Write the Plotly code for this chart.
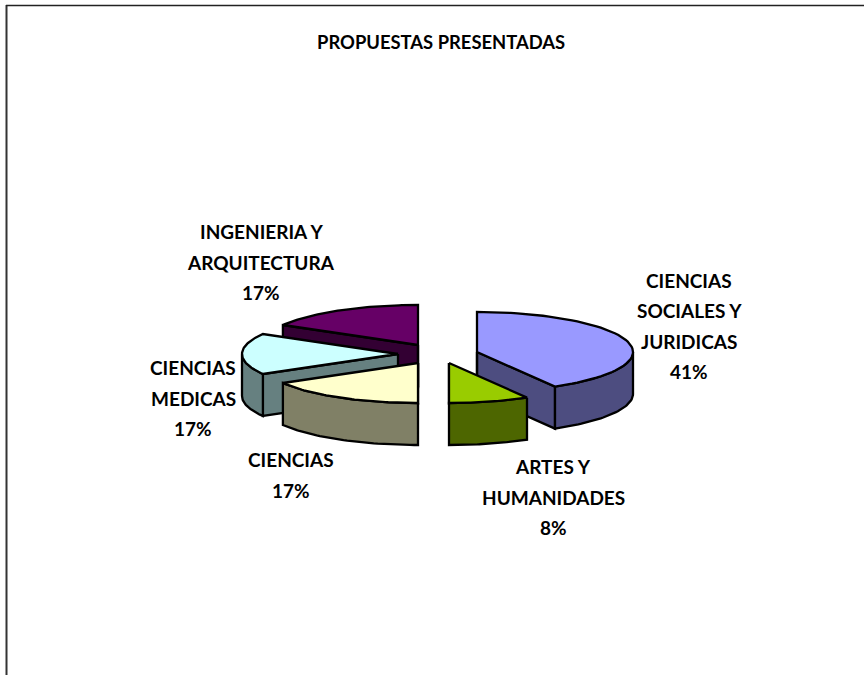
import math
import plotly.graph_objects as go

# Data
categories = ["CIENCIAS SOCIALES Y JURIDICAS", "ARTES Y HUMANIDADES", "CIENCIAS",
              "CIENCIAS MEDICAS", "INGENIERIA Y ARQUITECTURA"]
values = [5, 1, 2, 2, 2]
percent_labels = ["41%", "8%", "17%", "17%", "17%"]
label_lines = [["CIENCIAS", "SOCIALES Y", "JURIDICAS"], ["ARTES Y", "HUMANIDADES"], ["CIENCIAS"],
               ["CIENCIAS", "MEDICAS"], ["INGENIERIA Y", "ARQUITECTURA"]]
top_colors = ["#9999FF", "#99CC00", "#FFFFCC", "#CCFFFF", "#660066"]
side_colors = ["#4D4D80", "#4D6600", "#808066", "#668080", "#330033"]
title = "PROPUESTAS PRESENTADAS"

# Layout of the exploded, tilted pie (pixels of the page)
RX, RY, DEPTH = 156, 40, 42
apexes = [(477, 352), (449, 363), (418, 363), (398, 354), (418, 345)]
label_xy = [(689, 326), (553, 497), (291, 475), (193, 398), (261, 262)]
draw_order = [4, 3, 2, 0, 1]
LINE = 2.3
FONT = "Lato"


def pt(apex, deg, dy=0):
    t = math.radians(deg)
    return apex[0] + RX * math.sin(t), apex[1] - RY * math.cos(t) + dy


def poly(fig, pts, color):
    xs = [p[0] for p in pts] + [pts[0][0]]
    ys = [p[1] for p in pts] + [pts[0][1]]
    fig.add_trace(go.Scatter(x=xs, y=ys, mode="lines", fill="toself", fillcolor=color,
                             line=dict(color="black", width=LINE), hoverinfo="skip",
                             showlegend=False))


fig = go.Figure()
total = sum(values)
starts = []
acc = 0
for v in values:
    starts.append(acc)
    acc += v

for i in draw_order:
    a = 360 * starts[i] / total
    b = 360 * (starts[i] + values[i]) / total
    apex = apexes[i]
    side, top = side_colors[i], top_colors[i]
    low_apex = (apex[0], apex[1] + DEPTH)
    # radial walls, then outer wall, then top face
    for deg, visible in ((a, math.sin(math.radians(a)) < -1e-6), (b, math.sin(math.radians(b)) > 1e-6)):
        if visible:
            poly(fig, [apex, pt(apex, deg), pt(apex, deg, DEPTH), low_apex], side)
    if abs(math.sin(math.radians(a))) < 1e-6 or abs(math.sin(math.radians(b))) < 1e-6:
        fig.add_trace(go.Scatter(x=[apex[0], low_apex[0]], y=[apex[1], low_apex[1]], mode="lines",
                                 line=dict(color="black", width=LINE), hoverinfo="skip", showlegend=False))
    lo, hi = max(a, 90), min(b, 270)
    if hi > lo:
        n = 40
        degs = [lo + (hi - lo) * k / n for k in range(n + 1)]
        poly(fig, [pt(apex, d) for d in degs] + [pt(apex, d, DEPTH) for d in reversed(degs)], side)
    n = 60
    degs = [a + (b - a) * k / n for k in range(n + 1)]
    poly(fig, [apex] + [pt(apex, d) for d in degs], top)

annotations = [dict(x=441, y=42, text=f"<b>{title}</b>", showarrow=False, xref="x", yref="y",
                    font=dict(family=FONT, size=18.4, color="black"))]
for (x, y), lines, pct in zip(label_xy, label_lines, percent_labels):
    rows = lines + [pct]
    for k, row in enumerate(rows):
        annotations.append(dict(x=x, y=y + 30.3 * k - 30.3 * (len(rows) - 1) / 2, text=f"<b>{row}</b>",
                                showarrow=False, xref="x", yref="y",
                                font=dict(family=FONT, size=19, color="black")))

shapes = [dict(type="line", x0=6.5, x1=6.5, y0=5, y1=675, xref="x", yref="y", line=dict(color="#333333", width=2)),
          dict(type="line", x0=6, x1=864, y0=5.5, y1=5.5, xref="x", yref="y", line=dict(color="#222222", width=1.6))]

fig.update_layout(width=864, height=675, margin=dict(l=0, r=0, t=0, b=0), autosize=False,
                  paper_bgcolor="white", plot_bgcolor="white", annotations=annotations, shapes=shapes,
                  showlegend=False,
                  xaxis=dict(range=[0, 864], visible=False, fixedrange=True),
                  yaxis=dict(range=[675, 0], visible=False, fixedrange=True))
fig.write_html("out.html", config=dict(displayModeBar=False),
               post_script="document.body.style.margin='0';document.documentElement.style.overflow='hidden';")
